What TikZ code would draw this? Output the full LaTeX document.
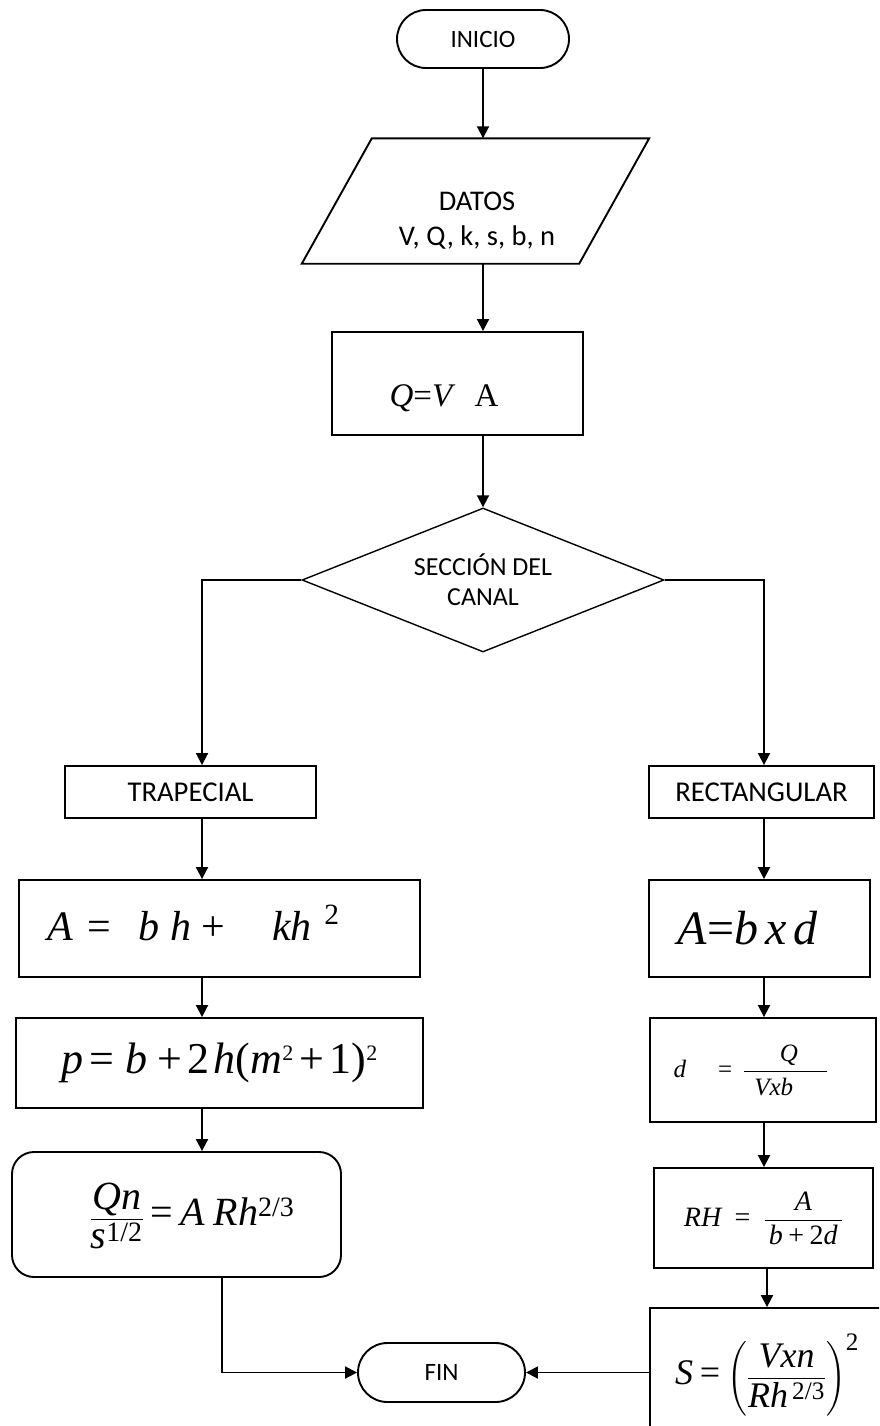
\documentclass[tikz,border=0pt]{standalone}
\usepackage{amsmath}
\usepackage[no-math]{fontspec}
\setmainfont{Carlito}
\newfontfamily\tnr{Liberation Serif}[NFSSFamily=tnr]
\DeclareSymbolFont{letters}{TU}{tnr}{m}{it}
\DeclareSymbolFont{operators}{TU}{tnr}{m}{n}
\AtBeginDocument{\mathcode`/="002F}
\usetikzlibrary{shapes.geometric,shapes.misc,arrows.meta}

\begin{document}
\begin{tikzpicture}[x=1pt, y=-1pt,
  box/.style={draw, line width=1.9pt, inner sep=0pt},
  lbl/.style={font=\fontsize{25}{30}\selectfont, align=center},
  arr/.style={-{Triangle[length=12pt,width=12pt]}, line width=1.9pt}
]
\useasboundingbox (0,0) rectangle (879,1426);
\clip (0,0) rectangle (879,1426);

\coordinate (lcol) at (202,578);
\coordinate (rcol) at (764,578);
\coordinate (scol) at (767,578);
\coordinate (lout) at (222,1300);

% centre column
\node[box, rounded rectangle, minimum width=172, minimum height=58, lbl] (inicio) at (483,39) {INICIO};
\node[minimum width=347, minimum height=125, inner sep=0pt] (datos) at (475.5,201) {};
\draw[box] ([xshift=70]datos.north west) -- (datos.north east) -- ([xshift=-70]datos.south east) -- (datos.south west) -- cycle;
\node[lbl, font=\fontsize{28.5}{35}\selectfont] (datostxt) at (477,221) {DATOS\\V, Q, k, s, b, n};
\node[box, minimum width=251, minimum height=103] (qva) at (457.5,383.5) {};
\node (qvatxt) at (444,398) {\fontsize{33}{38}\selectfont $Q{=}V\ \ \ \mbox{\tnr A}$};
\node[box, diamond, aspect=2.5, line width=1.4pt, minimum width=362, minimum height=144, lbl,
      font=\fontsize{26}{30}\selectfont] (sec) at (483,580) {SECCIÓN DEL\\CANAL};

% trapecial
\node[box, minimum width=251, minimum height=52, lbl, font=\fontsize{28.7}{32}\selectfont] (trap) at (190.5,792) {TRAPECIAL};
\node[box, minimum width=401, minimum height=97] (abh) at (219.5,928.5) {};
\node[anchor=west] (abhtxt) at (44,923)
  {\fontsize{42}{48}\selectfont $A\;=\;\;\;b\;\,h\,+\quad kh^{\,\,\,\raisebox{7pt}{$\scriptstyle 2$}}$};
\node[box, minimum width=407, minimum height=90] (per) at (219.5,1063)
  {\fontsize{44}{50}\selectfont $p=\,b\,+2\,h(m^{\raisebox{4pt}{$\scriptscriptstyle 2$}}+1)^{\raisebox{4pt}{$\scriptscriptstyle 2$}}$};
\node[box, rounded corners=22pt, minimum width=329, minimum height=125] (rqn) at (176.5,1214.5) {};
\node (rqntxt) at (192,1216) {\fontsize{40}{46}\selectfont $\dfrac{Qn}{s^{1/2}}=A\ Rh^{2/3}$};

% rectangular
\node[box, minimum width=225, minimum height=52, lbl, font=\fontsize{28.7}{32}\selectfont] (rect) at (761.5,792) {RECTANGULAR};
\node[box, minimum width=221, minimum height=97] (abd) at (759.5,928.5) {\hspace*{-24pt}\fontsize{48}{54}\selectfont $A{=}b\;x\;d$};
\node[box, minimum width=226, minimum height=104] (dd) at (763,1070)
  {\hspace*{-24pt}\fontsize{25}{30}\selectfont $d\quad=\,\dfrac{\hspace{6pt}Q}{\hspace{10pt}Vxb\hspace{34pt}}$};
\node[box, minimum width=219, minimum height=100] (rh) at (763.5,1218) {\fontsize{28}{32}\selectfont $RH\ =\ \dfrac{A}{\,b+2d\,}$};
\node[box, minimum width=250, minimum height=142] (sbox) at (775,1379) {};
\node (stxt) at (767,1375) {\fontsize{36}{40}\selectfont $S=\left(\dfrac{Vxn}{Rh^{\,2/3}}\right)^{2}$};

\node[box, rounded rectangle, minimum width=167, minimum height=59, lbl] (fin) at (441.5,1372.5) {FIN};

% connectors
\draw[arr] (inicio.south) -- (datos.north -| inicio);
\draw[arr] (datos.south -| inicio) -- (qva.north -| inicio);
\draw[arr] (qva.south -| inicio) -- (sec.north);
\draw[arr] (sec.west) -| (trap.north -| lcol);
\draw[arr] (sec.east) -| (rect.north -| rcol);
\draw[arr] (trap.south -| lcol) -- (abh.north -| lcol);
\draw[arr] (abh.south -| lcol) -- (per.north -| lcol);
\draw[arr] (per.south -| lcol) -- (rqn.north -| lcol);
\draw[arr] (rqn.south -| lout) |- (fin.west);
\draw[arr] (rect.south -| rcol) -- (abd.north -| rcol);
\draw[arr] (abd.south -| rcol) -- (dd.north -| rcol);
\draw[arr] (dd.south -| rcol) -- (rh.north -| rcol);
\draw[arr] (rh.south -| scol) -- (sbox.north -| scol);
\draw[arr] (sbox.west |- fin.east) -- (fin.east);
\end{tikzpicture}
\end{document}
